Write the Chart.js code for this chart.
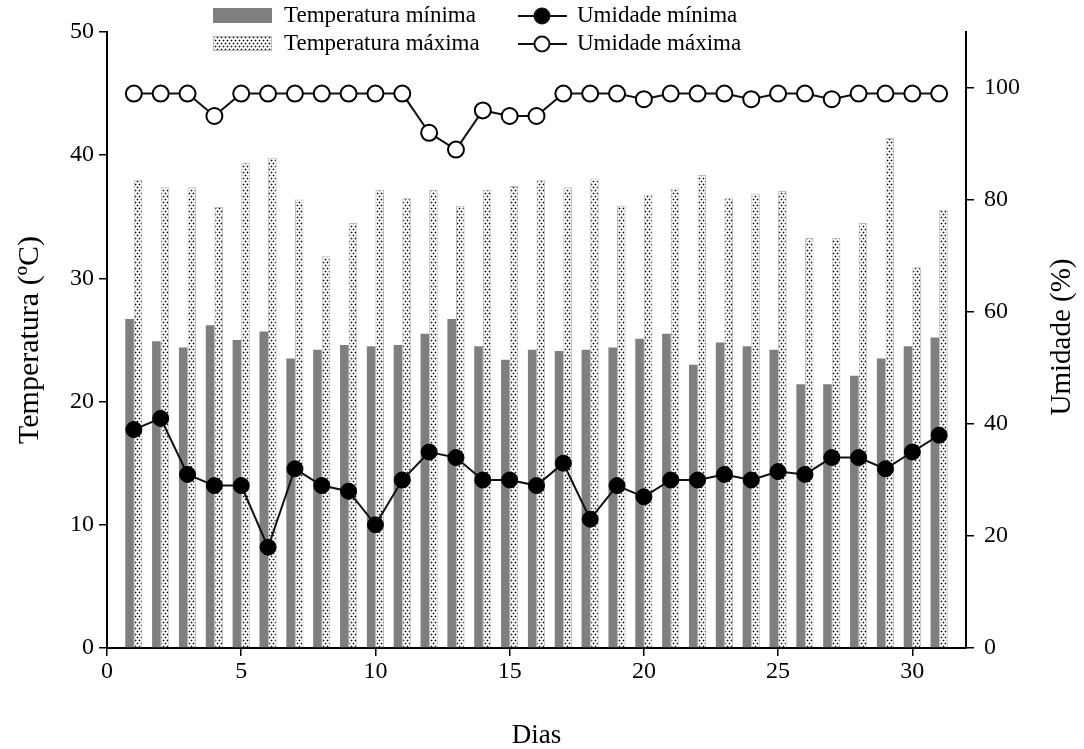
<!DOCTYPE html>
<html><head><meta charset="utf-8">
<script src="https://cdn.jsdelivr.net/npm/chart.js@4.4.1/dist/chart.umd.min.js"></script>
<style>html,body{margin:0;padding:0;background:#fff}canvas{display:block}</style>
</head><body>
<canvas id="c" width="1084" height="749"></canvas>
<script>
const dias = [1,2,3,4,5,6,7,8,9,10,11,12,13,14,15,16,17,18,19,20,21,22,23,24,25,26,27,28,29,30,31];
const tempMin = [26.7,24.9,24.4,26.2,25.0,25.7,23.5,24.2,24.6,24.5,24.6,25.5,26.7,24.5,23.4,24.2,24.1,24.2,24.4,25.1,25.5,23.0,24.8,24.5,24.2,21.4,21.4,22.1,23.5,24.5,25.2];
const tempMax = [38.0,37.4,37.4,35.8,39.4,39.8,36.4,31.8,34.5,37.2,36.5,37.2,35.9,37.2,37.5,38.0,37.4,38.1,35.9,36.8,37.3,38.4,36.5,36.9,37.1,33.3,33.3,34.5,41.4,30.9,35.6];
const umidMin = [39,41,31,29,29,18,32,29,28,22,30,35,34,30,30,29,33,23,29,27,30,30,31,30,31.5,31,34,34,32,35,38];
const umidMax = [99,99,99,95,99,99,99,99,99,99,99,92,89,96,95,95,99,99,99,98,99,99,99,98,99,99,98,99,99,99,99];
const xTicks = [0,5,10,15,20,25,30];
const yLeftTicks = [0,10,20,30,40,50];
const yRightTicks = [0,20,40,60,80,100];
const labels = ['Temperatura mínima','Temperatura máxima','Umidade mínima','Umidade máxima'];

const FONT = '"Liberation Serif", "Times New Roman", serif';
const GREY = '#7f7f7f';

function makeDots(){
  const c = document.createElement('canvas'); c.width = 4; c.height = 6;
  const x = c.getContext('2d');
  x.fillStyle = '#fff'; x.fillRect(0,0,4,6);
  x.fillStyle = '#aaa'; x.fillRect(0,1,3,1); x.fillRect(1,0,1,3); x.fillRect(2,4,3,1); x.fillRect(3,3,1,3); x.fillRect(0,4,1,1);
  x.fillStyle = '#111'; x.fillRect(1,1,1,1); x.fillRect(3,4,1,1);
  return document.getElementById('c').getContext('2d').createPattern(c,'repeat');
}
const dots = makeDots();
const pts = (arr) => dias.map((d,i)=>({x:d,y:arr[i]}));

const legendPlugin = {
  id:'customLegend',
  afterDraw(chart){
    const ctx = chart.ctx;
    ctx.save();
    ctx.font = '23px ' + FONT;
    ctx.textBaseline = 'middle';
    ctx.fillStyle = GREY; ctx.fillRect(213,8,59,15);
    ctx.fillStyle = dots; ctx.fillRect(213,36,59,15);
    ctx.strokeStyle = '#bbb'; ctx.lineWidth = 1; ctx.strokeRect(213.5,36.5,58,14);
    ctx.fillStyle = '#000';
    ctx.fillText(labels[0],284,16);
    ctx.fillText(labels[1],284,44);
    ctx.strokeStyle = '#111'; ctx.lineWidth = 2;
    [[16,true],[44,false]].forEach(([y,filled])=>{
      ctx.beginPath(); ctx.moveTo(518,y); ctx.lineTo(567,y); ctx.stroke();
      ctx.beginPath(); ctx.arc(542,y,7.5,0,Math.PI*2);
      ctx.fillStyle = filled ? '#000' : '#fff'; ctx.fill(); ctx.stroke();
    });
    ctx.fillStyle = '#000';
    ctx.fillText(labels[2],577,16);
    ctx.fillText(labels[3],577,44);
    ctx.font = '29px ' + FONT;
    ctx.textAlign = 'center';
    ctx.translate(1062,337); ctx.rotate(-Math.PI/2);
    ctx.fillText('Umidade (%)',0,0);
    ctx.restore();
  }
};

const tickFont = {family: FONT, size: 24};
const gridOpts = {display:true, drawOnChartArea:false, drawTicks:true, tickLength:8, color:'#000', lineWidth:1.5, offset:false};
const borderOpts = {display:true, color:'#000', width:2};

new Chart(document.getElementById('c'), {
  type:'bar',
  data:{
    datasets:[
      {type:'line', label:labels[2], data:pts(umidMin), yAxisID:'y2', order:0,
       borderColor:'#111', borderWidth:2, pointRadius:8, pointBackgroundColor:'#000', pointBorderColor:'#000', pointBorderWidth:1},
      {type:'line', label:labels[3], data:pts(umidMax), yAxisID:'y2', order:0,
       borderColor:'#111', borderWidth:2, pointRadius:8, pointBackgroundColor:'#fff', pointBorderColor:'#000', pointBorderWidth:2},
      {label:labels[0], data:pts(tempMin), yAxisID:'y', order:1, backgroundColor:GREY, borderWidth:0,
       categoryPercentage:0.64, barPercentage:1},
      {label:labels[1], data:pts(tempMax), yAxisID:'y', order:1, backgroundColor:dots, borderColor:'#bbb', borderWidth:1,
       categoryPercentage:0.64, barPercentage:1}
    ]
  },
  options:{
    responsive:false, animation:false,
    layout:{padding:{top:32,left:0,right:0,bottom:0}},
    plugins:{legend:{display:false}, tooltip:{enabled:false}},
    scales:{
      x:{type:'linear', position:'bottom', min:0, max:32, offset:false,
         afterBuildTicks:(s)=>{s.ticks = xTicks.map(v=>({value:v}));},
         afterFit:(s)=>{s.height = 101;},
         ticks:{font:tickFont, color:'#000', padding:1, maxRotation:0},
         grid:gridOpts, border:borderOpts,
         title:{display:true, text:'Dias', font:{family:FONT,size:27,lineHeight:1}, color:'#000', padding:{bottom:0}}},
      y:{type:'linear', position:'left', min:0, max:50,
         afterBuildTicks:(s)=>{s.ticks = yLeftTicks.map(v=>({value:v}));},
         afterFit:(s)=>{s.width = 107;},
         ticks:{font:tickFont, color:'#000', padding:5},
         grid:gridOpts, border:borderOpts,
         title:{display:true, text:'Temperatura (ºC)', font:{family:FONT,size:30,lineHeight:1}, color:'#000', padding:{top:15}}},
      y2:{type:'linear', position:'right', min:0, max:110,
         afterBuildTicks:(s)=>{s.ticks = yRightTicks.map(v=>({value:v}));},
         afterFit:(s)=>{s.width = 118;},
         ticks:{font:tickFont, color:'#000', padding:10},
         grid:gridOpts, border:borderOpts}
    }
  },
  plugins:[legendPlugin]
});
</script>
</body></html>
